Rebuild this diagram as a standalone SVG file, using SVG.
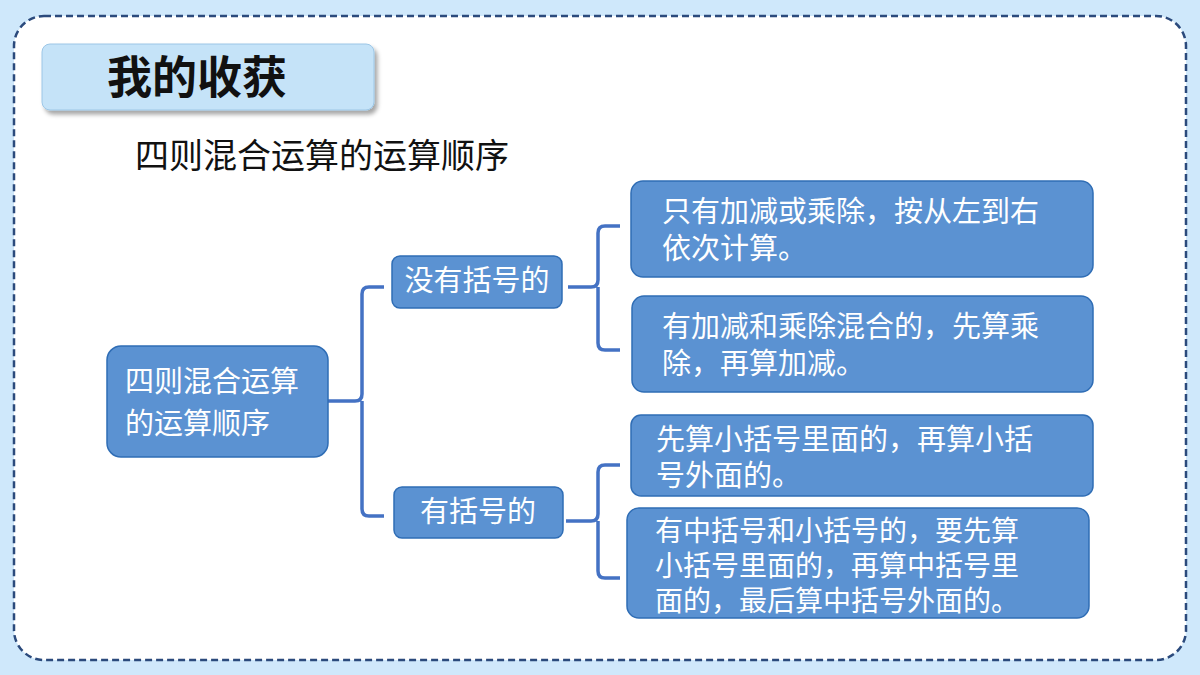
<svg xmlns="http://www.w3.org/2000/svg" width="1200" height="675" viewBox="0 0 1200 675">
<style>
.n{fill:#5b92d2;stroke:#2f6db5;stroke-width:1.5}
.t{fill:#fff;font-family:"Noto Sans CJK SC","Noto Sans",sans-serif;font-size:29px}
.s{font-size:28px}
.c{fill:none;stroke:#4472c4;stroke-width:3.5;stroke-linejoin:round}
</style>
<defs><filter id="sh" x="-10%" y="-20%" width="130%" height="150%"><feDropShadow dx="3" dy="4" stdDeviation="2" flood-color="#000" flood-opacity="0.35"/></filter></defs>
<rect width="1200" height="675" fill="#cfe8fb"/>
<rect x="14" y="16" width="1172" height="644" rx="30" fill="#fff" stroke="#2b4a7c" stroke-width="2.5" stroke-dasharray="7 4"/>
<g id="title"><rect x="42" y="44" width="332" height="66" rx="8" fill="#c5e3f8" stroke="#9cc6e6" filter="url(#sh)"/>
<text x="107" y="94" font-family="Noto Sans CJK SC,sans-serif" font-size="45" font-weight="bold" fill="#111">我的收获</text></g>
<text x="135" y="168" font-family="Noto Sans CJK SC,sans-serif" font-size="34" fill="#111">四则混合运算的运算顺序</text>
<g id="connectors">
<path class="c" d="M328 401H355Q362 401 362 394V294Q362 287 369 287H384M362 401V509Q362 516 369 516H384"/>
<path class="c" d="M568 287H591Q598 287 598 280V233Q598 226 605 226H620M598 287V343Q598 350 605 350H620"/>
<path class="c" d="M566 521H591Q598 521 598 514V472Q598 465 605 465H620M598 521V571Q598 578 605 578H620"/>
</g>
<g id="root"><rect class="n" x="107" y="346" width="221" height="111" rx="14"/>
<text class="t" x="125" y="392">四则混合运算</text><text class="t" x="125" y="434">的运算顺序</text></g>
<g id="noparen"><rect class="n" x="392" y="256" width="170" height="52" rx="8"/>
<text class="t" x="477" y="291" text-anchor="middle">没有括号的</text></g>
<g id="paren"><rect class="n" x="394" y="487" width="169" height="51" rx="8"/>
<text class="t" x="478" y="522" text-anchor="middle">有括号的</text></g>
<g id="l1"><rect class="n" x="631" y="181" width="462" height="96" rx="12"/>
<text class="t" x="662" y="222">只有加减或乘除，按从左到右</text><text class="t" x="662" y="259">依次计算。</text></g>
<g id="l2"><rect class="n" x="632" y="296" width="461" height="96" rx="12"/>
<text class="t" x="662" y="337">有加减和乘除混合的，先算乘</text><text class="t" x="662" y="374">除，再算加减。</text></g>
<g id="l3"><rect class="n" x="631" y="415" width="462" height="81" rx="10"/>
<text class="t" x="656" y="450">先算小括号里面的，再算小括</text><text class="t" x="656" y="486">号外面的。</text></g>
<g id="l4"><rect class="n" x="627" y="508" width="462" height="110" rx="12"/>
<text class="t s" x="655" y="541">有中括号和小括号的，要先算</text><text class="t s" x="655" y="576">小括号里面的，再算中括号里</text><text class="t s" x="655" y="611">面的，最后算中括号外面的。</text></g>
</svg>
